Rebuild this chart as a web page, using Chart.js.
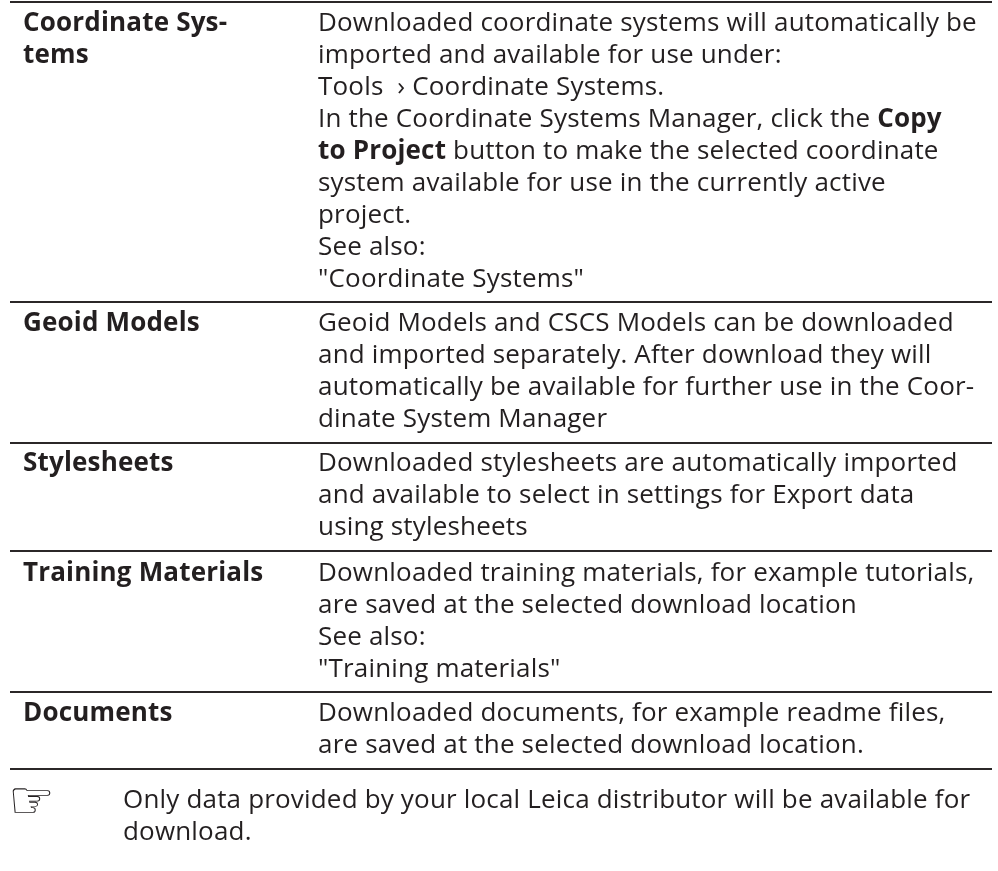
<!DOCTYPE html>
<html>
<head>
<meta charset="utf-8">
<script src="https://cdn.jsdelivr.net/npm/chart.js@4"></script>
<style>
  html, body { margin: 0; padding: 0; background: #fff; }
  #page { position: relative; width: 998px; height: 871px; }
  canvas { display: block; }
</style>
</head>
<body>
<div id="page"><canvas id="sheet"></canvas></div>
<script>
// Rule positions down the page, in page pixels
const ruleRows = [2, 302, 443, 551, 692, 769];

// First column, one entry per text line: [line number, text]
const rowNames = [
  [0, 'Coordinate Sys-'], [1, 'tems'],
  [10, 'Geoid Models'],
  [15, 'Stylesheets'],
  [19, 'Training Materials'],
  [24, 'Documents']
];

// Second column, lines with [text, bold] runs
const rowTexts = [
  [0, [['Downloaded coordinate systems will automatically be', 0]]],
  [1, [['imported and available for use under:', 0]]],
  [2, [['Tools  \u203A Coordinate Systems.', 0]]],
  [3, [['In the Coordinate Systems Manager, click the ', 0], ['Copy', 1]]],
  [4, [['to Project', 1], [' button to make the selected coordinate', 0]]],
  [5, [['system available for use in the currently active', 0]]],
  [6, [['project.', 0]]],
  [7, [['See also:', 0]]],
  [8, [['"Coordinate Systems"', 0]]],
  [10, [['Geoid Models and CSCS Models can be downloaded', 0]]],
  [11, [['and imported separately. After download they will', 0]]],
  [12, [['automatically be available for further use in the Coor-', 0]]],
  [13, [['dinate System Manager', 0]]],
  [15, [['Downloaded stylesheets are automatically imported', 0]]],
  [16, [['and available to select in settings for Export data', 0]]],
  [17, [['using stylesheets', 0]]],
  [19, [['Downloaded training materials, for example tutorials,', 0]]],
  [20, [['are saved at the selected download location', 0]]],
  [21, [['See also:', 0]]],
  [22, [['"Training materials"', 0]]],
  [24, [['Downloaded documents, for example readme files,', 0]]],
  [25, [['are saved at the selected download location.', 0]]]
];

// Baselines of the text lines, in page pixels
const lineY = [31, 63, 95, 127, 159, 191, 223, 255, 287, 0,
               331, 363, 395, 427, 0,
               471, 503, 535, 0,
               581, 613, 645, 677, 0,
               721, 753];

const noteMark = '\u261E';
const noteLines = ['Only data provided by your local Leica distributor will be available for', 'download.'];
const noteY = [808, 840];

const FONT = '"Open Sans", sans-serif';
const SIZE = 26;
const INK = '#231f20';

const textPlugin = {
  id: 'pageText',
  afterDraw(chart) {
    const { ctx, scales: { x, y } } = chart;
    ctx.save();
    ctx.fillStyle = INK;
    ctx.textBaseline = 'alphabetic';
    ctx.letterSpacing = '0.18px';
    ctx.font = `700 ${SIZE}px ${FONT}`;
    rowNames.forEach(([line, name]) => {
      ctx.fillText(name, x.getPixelForValue(23), y.getPixelForValue(lineY[line]));
    });
    rowTexts.forEach(([line, runs]) => {
      let left = x.getPixelForValue(318);
      runs.forEach(([text, bold]) => {
        ctx.font = `${bold ? 700 : 400} ${SIZE}px ${FONT}`;
        ctx.fillText(text, left, y.getPixelForValue(lineY[line]));
        left += ctx.measureText(text).width;
      });
    });
    ctx.font = `${SIZE}px ${FONT}`;
    noteLines.forEach((text, i) => {
      ctx.fillText(text, x.getPixelForValue(123), y.getPixelForValue(noteY[i]));
    });
    ctx.letterSpacing = '0px';
    ctx.font = '52px "DejaVu Sans"';
    ctx.fillText(noteMark, x.getPixelForValue(8), y.getPixelForValue(noteY[0] + 10));
    ctx.restore();
  }
};

const canvas = document.getElementById('sheet');
canvas.width = 998;
canvas.height = 871;

new Chart(canvas, {
  type: 'scatter',
  data: { datasets: [{ data: [] }] },
  plugins: [textPlugin],
  options: {
    responsive: false,
    animation: false,
    layout: { padding: { left: 10, right: 6, top: 0, bottom: 0 } },
    plugins: { legend: { display: false }, tooltip: { enabled: false } },
    scales: {
      x: {
        type: 'linear', min: 10, max: 992,
        display: false
      },
      y: {
        type: 'linear', min: 0, max: 871, reverse: true,
        position: 'left',
        afterFit(scale) { scale.width = 0; },
        afterBuildTicks(scale) { scale.ticks = ruleRows.map(value => ({ value })); },
        border: { display: false },
        grid: { color: '#2b2728', lineWidth: 2, drawTicks: false },
        ticks: { display: false }
      }
    }
  }
});
</script>
</body>
</html>
